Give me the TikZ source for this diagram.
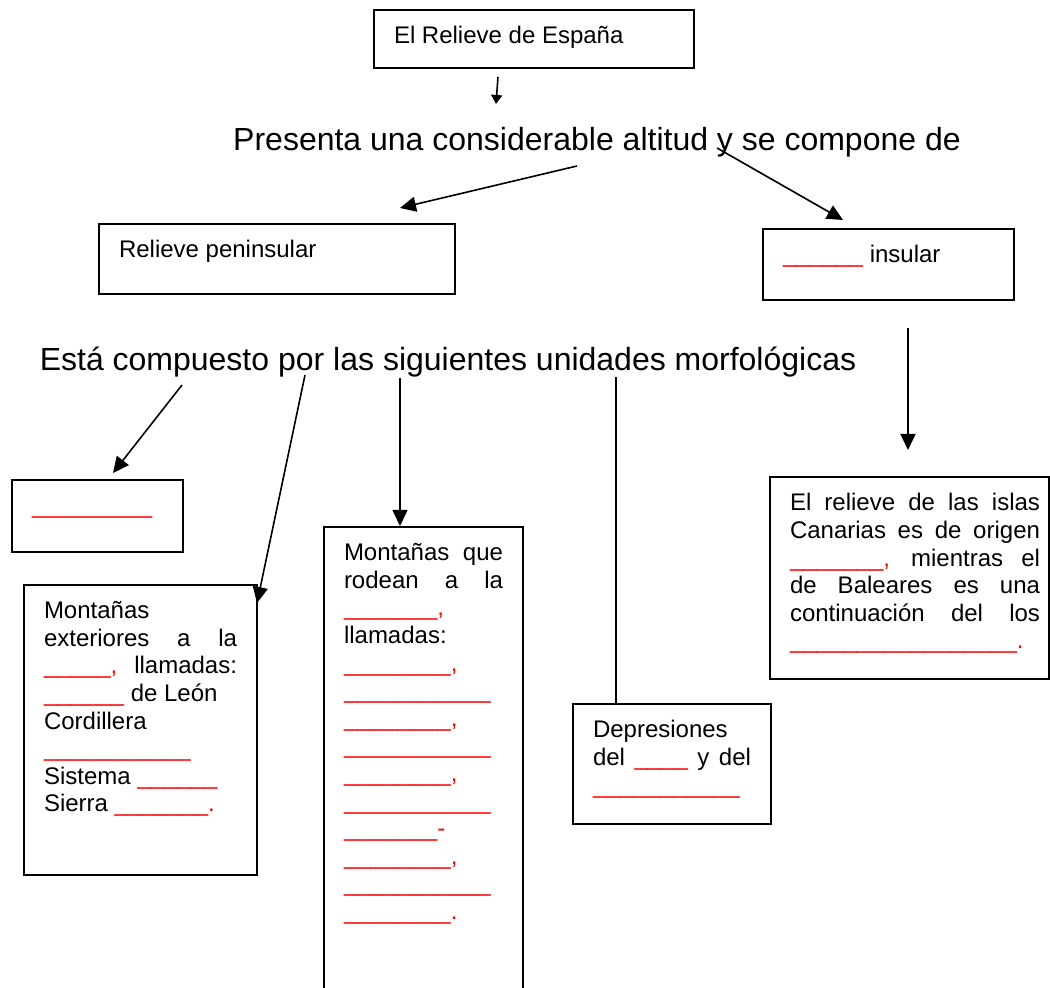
\documentclass[tikz,border=0pt]{standalone}
\usepackage{fontspec}
\setmainfont{Liberation Sans}
\usepackage{tikz}
\usetikzlibrary{arrows.meta}

\newcommand{\inbox}[4][10pt]{\hspace*{10pt}\parbox[c][#3][t]{#2}{\vskip8.25pt #4}\hspace*{#1}}
\newcommand{\jl}[1]{\makebox[\linewidth][s]{#1}}
\newcommand{\rd}[1]{\textcolor{red}{#1}}

\tikzset{
  box/.style={draw, line width=1pt, inner sep=0pt, anchor=north west,
    font=\fontsize{12}{13.8}\selectfont},
  big/.style={anchor=base, inner sep=0pt, font=\fontsize{16}{18.4}\selectfont},
  arr/.style={line width=0.8pt, -{Triangle[length=8pt,width=7.5pt]}},
}

\begin{document}
\begin{tikzpicture}[x=0.5pt, y=-0.5pt]
  \clip (0,0) rectangle (1050,988);

  \node[box] (top) at (373,9) {\inbox{140pt}{29pt}{El Relieve de España}};
  \node[big] (pres) at (597,151) {Presenta una considerable altitud y se compone de};

  \node[box] (pen) at (98,223) {\inbox{158pt}{35pt}{Relieve peninsular}};
  \node[box] (ins) at (762,228) {\inbox{105.5pt}{35.5pt}{\rd{\_\_\_\_\_\_} insular}};

  \node[big] (esta) at (448,371) {Está compuesto por las siguientes unidades morfológicas};

  \node[box] (blank) at (11,479) {\inbox{65.5pt}{36pt}{\vspace*{8.5pt}\rd{\_\_\_\_\_\_\_\_\_}}};
  \node[box] (ext) at (23,584) {\inbox{96.5pt}{145pt}{Montañas\\
    \jl{exteriores a la}\\
    \jl{\rd{\_\_\_\_\_,} llamadas:}\\
    \rd{\_\_\_\_\_\_} de León\\
    Cordillera\\
    \rd{\_\_\_\_\_\_\_\_\_\_\_}\\
    Sistema \rd{\_\_\_\_\_\_}\\
    Sierra \rd{\_\_\_\_\_\_\_.}}};
  \node[box] (mid) at (323,526) {\inbox{79.5pt}{237pt}{\jl{Montañas que}\\
    \jl{rodean a la}\\
    \rd{\_\_\_\_\_\_\_,}\\
    llamadas:\\
    \rd{\_\_\_\_\_\_\_\_,}\\
    \rd{\_\_\_\_\_\_\_\_\_\_\_}\\
    \rd{\_\_\_\_\_\_\_\_,}\\
    \rd{\_\_\_\_\_\_\_\_\_\_\_}\\
    \rd{\_\_\_\_\_\_\_\_,}\\
    \rd{\_\_\_\_\_\_\_\_\_\_\_}\\
    \rd{\_\_\_\_\_\_\_-}\\
    \rd{\_\_\_\_\_\_\_\_,}\\
    \rd{\_\_\_\_\_\_\_\_\_\_\_}\\
    \rd{\_\_\_\_\_\_\_\_.}}};
  \node[box] (dep) at (572,703) {\inbox{79pt}{60pt}{Depresiones\\
    \jl{del \rd{\_\_\_\_} y del}\\
    \rd{\_\_\_\_\_\_\_\_\_\_\_}}};
  \node[box] (cana) at (769,476) {\inbox[4.5pt]{125pt}{101pt}{\jl{El relieve de las islas}\\
    \jl{Canarias es de origen}\\
    \jl{\rd{\_\_\_\_\_\_\_,} mientras el}\\
    \jl{de Baleares es una}\\
    \jl{continuación del los}\\
    \rd{\_\_\_\_\_\_\_\_\_\_\_\_\_\_\_\_\_.}}};

  \coordinate (t1) at (498,77);
  \coordinate (t2) at (496,104);
  \coordinate (p1) at (577,166);
  \coordinate (p2) at (400,208);
  \coordinate (q1) at (717,148);
  \coordinate (q2) at (843,220);
  \coordinate (i1) at (908,328);
  \coordinate (i2) at (908,450);
  \coordinate (b1) at (182,385);
  \coordinate (b2) at (113,473);
  \coordinate (e1) at (305,375);
  \coordinate (e2) at (257,603);
  \coordinate (m1) at (400,378);
  \coordinate (d1) at (616,377);

  \draw[line width=0.8pt, -{Triangle[length=4.5pt,width=5.5pt]}] (t1) -- (t2);
  \draw[arr] (p1) -- (p2);
  \draw[arr] (q1) -- (q2);
  \draw[arr] (i1) -- (i2);
  \draw[arr] (b1) -- (b2);
  \draw[arr] (e1) -- (e2);
  \draw[arr] (m1) -- (mid.north -| m1);
  \draw[line width=0.8pt] (d1) -- (dep.north -| d1);
\end{tikzpicture}
\end{document}
